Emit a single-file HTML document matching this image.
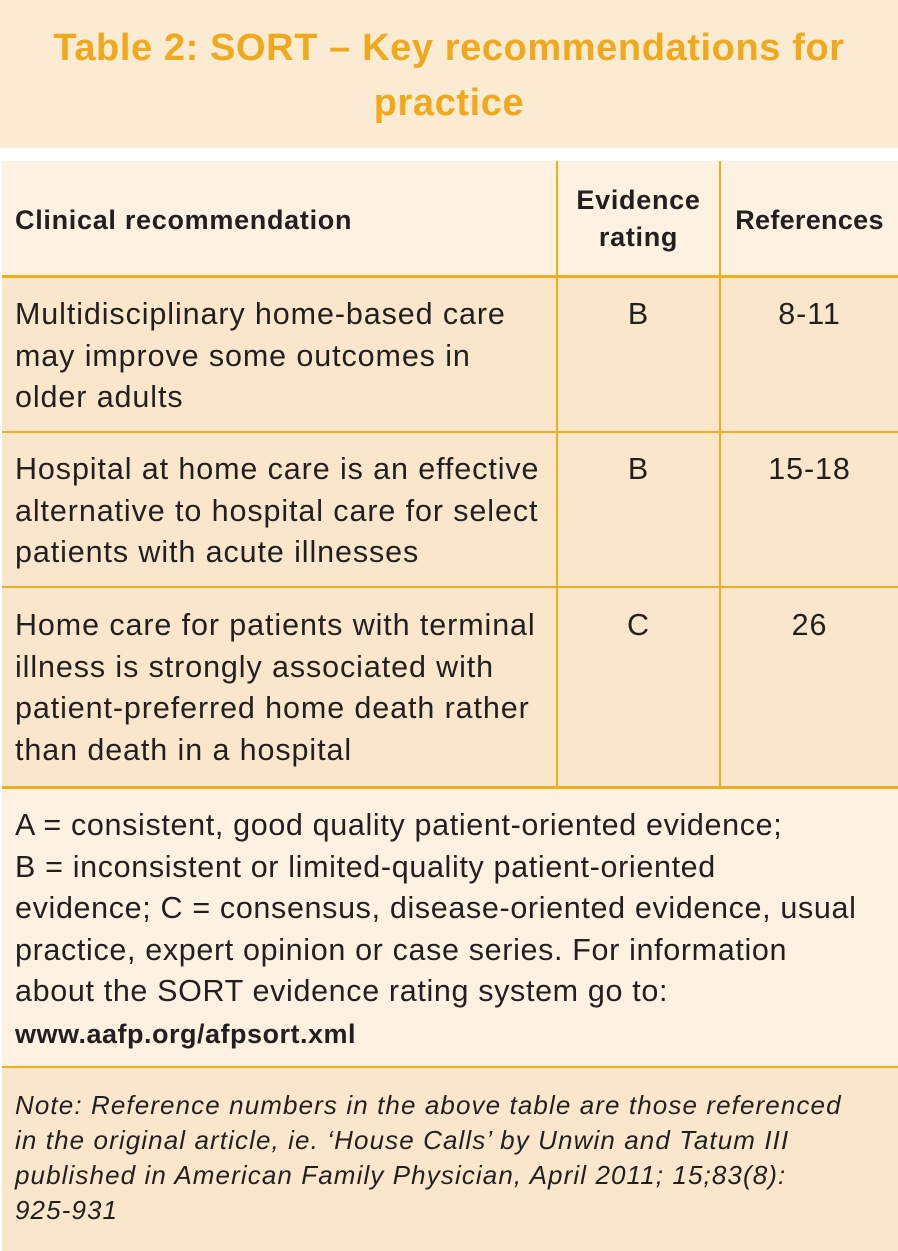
<!DOCTYPE html>
<html><head><meta charset="utf-8"><style>
body{margin:0;width:898px;height:1251px;background:#fff;position:relative;font-family:"Liberation Sans",sans-serif;color:#231f20;overflow:hidden}
div{position:absolute;box-sizing:border-box}
.t{white-space:nowrap}
.b{font-size:30.5px;line-height:41.5px;letter-spacing:0.9px}
.h{font-weight:bold;font-size:27px;line-height:37px;letter-spacing:0.7px}
</style></head><body>
<div style="left:0;top:0;width:898px;height:148px;background:#fcebd3"></div>
<div class="t" style="left:0;top:21px;width:898px;text-align:center;color:#f0a91c;font-weight:bold;font-size:38px;line-height:55px;letter-spacing:0.6px">Table 2: SORT – Key recommendations for<br>practice</div>
<div style="left:2px;top:161px;width:896px;height:115px;background:#fdf1e1"></div>
<div style="left:2px;top:276px;width:896px;height:511px;background:#fae7cb"></div>
<div style="left:2px;top:787px;width:896px;height:280px;background:#fdf1e1"></div>
<div style="left:2px;top:1067px;width:896px;height:184px;background:#fae7cb"></div>
<div style="left:2px;top:275px;width:896px;height:3px;background:#f0ae1e"></div>
<div style="left:2px;top:431px;width:896px;height:2px;background:#f0ae1e"></div>
<div style="left:2px;top:586px;width:896px;height:2px;background:#f0ae1e"></div>
<div style="left:2px;top:786px;width:896px;height:3px;background:#f0ae1e"></div>
<div style="left:2px;top:1066px;width:896px;height:2px;background:#f0ae1e"></div>
<div style="left:556px;top:161px;width:2px;height:626px;background:#f0ae1e"></div>
<div style="left:719px;top:161px;width:2px;height:626px;background:#f0ae1e"></div>
<div class="t h" style="left:15px;top:202px">Clinical recommendation</div>
<div class="t h" style="left:558px;top:182px;width:161px;text-align:center">Evidence<br>rating</div>
<div class="t h" style="left:721px;top:202px;width:177px;text-align:center;letter-spacing:0.3px">References</div>
<div class="t b" style="left:15px;top:294px">Multidisciplinary home-based care<br>may improve some outcomes in<br>older adults</div>
<div class="t b" style="left:558px;top:294px;width:161px;text-align:center">B</div>
<div class="t b" style="left:721px;top:294px;width:177px;text-align:center">8-11</div>
<div class="t b" style="left:15px;top:449px">Hospital at home care is an effective<br>alternative to hospital care for select<br>patients with acute illnesses</div>
<div class="t b" style="left:558px;top:449px;width:161px;text-align:center">B</div>
<div class="t b" style="left:721px;top:449px;width:177px;text-align:center">15-18</div>
<div class="t b" style="left:15px;top:605px">Home care for patients with terminal<br>illness is strongly associated with<br>patient-preferred home death rather<br>than death in a hospital</div>
<div class="t b" style="left:558px;top:605px;width:161px;text-align:center">C</div>
<div class="t b" style="left:721px;top:605px;width:177px;text-align:center">26</div>
<div class="t b" style="left:15px;top:805px;letter-spacing:0.65px">A = consistent, good quality patient-oriented evidence;<br>B = inconsistent or limited-quality patient-oriented<br>evidence; C = consensus, disease-oriented evidence, usual<br>practice, expert opinion or case series. For information<br>about the SORT evidence rating system go to:<br><b style="font-size:27px;letter-spacing:0.5px">www.aafp.org/afpsort.xml</b></div>
<div class="t" style="left:15px;top:1088px;font-style:italic;font-size:26px;line-height:35px;letter-spacing:1.1px">Note: Reference numbers in the above table are those referenced<br>in the original article, ie. ‘House Calls’ by Unwin and Tatum III<br>published in American Family Physician, April 2011; 15;83(8):<br>925-931</div>
</body></html>
